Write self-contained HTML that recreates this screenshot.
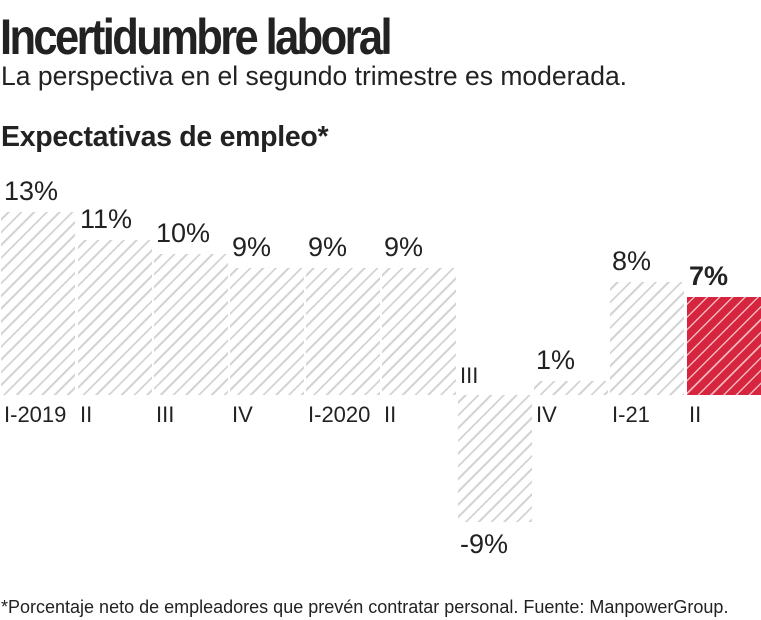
<!DOCTYPE html>
<html><head><meta charset="utf-8"><style>
body{margin:0;width:761px;height:620px;background:#fff;position:relative;overflow:hidden;font-family:"Liberation Sans",sans-serif;color:#222}
.t{position:absolute;white-space:nowrap}
.b{position:absolute;width:74px;background:repeating-linear-gradient(135deg,#fff 0 4.5px,#d4d4d4 4.5px 6.5px,#fff 6.5px 9px)}
.r{background:repeating-linear-gradient(135deg,#d6263f 0 4.5px,#f3b5bd 4.5px 6px,#d6263f 6px 9px)}
.v{position:absolute;font-size:27px;color:#222}
.x{position:absolute;font-size:22px;top:402px;color:#222}
</style></head><body>
<div class="t" style="left:0;top:8px;font-size:50px;font-weight:bold;letter-spacing:-3px;transform:scaleX(0.87);transform-origin:0 0;font-family:'Liberation Sans Narrow','Liberation Sans',sans-serif">Incertidumbre laboral</div>
<div class="t" style="left:1px;top:61px;font-size:26.5px">La perspectiva en el segundo trimestre es moderada.</div>
<div class="t" style="left:1px;top:121px;font-size:28.5px;font-weight:bold;letter-spacing:-0.3px">Expectativas de empleo*</div>

<div class="b" style="left:1px;top:212px;height:183px"></div>
<div class="b" style="left:78px;top:240px;height:155px"></div>
<div class="b" style="left:154px;top:254px;height:141px"></div>
<div class="b" style="left:230px;top:268px;height:127px"></div>
<div class="b" style="left:306px;top:268px;height:127px"></div>
<div class="b" style="left:382px;top:268px;height:127px"></div>
<div class="b" style="left:458px;top:395px;height:127px"></div>
<div class="b" style="left:534px;top:381px;height:14px"></div>
<div class="b" style="left:610px;top:282px;height:113px"></div>
<div class="b r" style="left:687px;top:297px;height:98px"></div>

<div class="v" style="left:4px;top:176px">13%</div>
<div class="v" style="left:80px;top:204px">11%</div>
<div class="v" style="left:156px;top:218px">10%</div>
<div class="v" style="left:232px;top:232px">9%</div>
<div class="v" style="left:308px;top:232px">9%</div>
<div class="v" style="left:384px;top:232px">9%</div>
<div class="v" style="left:460px;top:529px">-9%</div>
<div class="v" style="left:536px;top:345px">1%</div>
<div class="v" style="left:612px;top:246px">8%</div>
<div class="v" style="left:689px;top:261px;font-weight:bold">7%</div>

<div class="x" style="left:4px">I-2019</div>
<div class="x" style="left:80px">II</div>
<div class="x" style="left:156px">III</div>
<div class="x" style="left:232px">IV</div>
<div class="x" style="left:308px">I-2020</div>
<div class="x" style="left:384px">II</div>
<div class="x" style="left:460px;top:363px">III</div>
<div class="x" style="left:536px">IV</div>
<div class="x" style="left:612px">I-21</div>
<div class="x" style="left:689px">II</div>

<div class="t" style="left:1px;top:597px;font-size:18px">*Porcentaje neto de empleadores que prevén contratar personal. Fuente: ManpowerGroup.</div>
</body></html>
